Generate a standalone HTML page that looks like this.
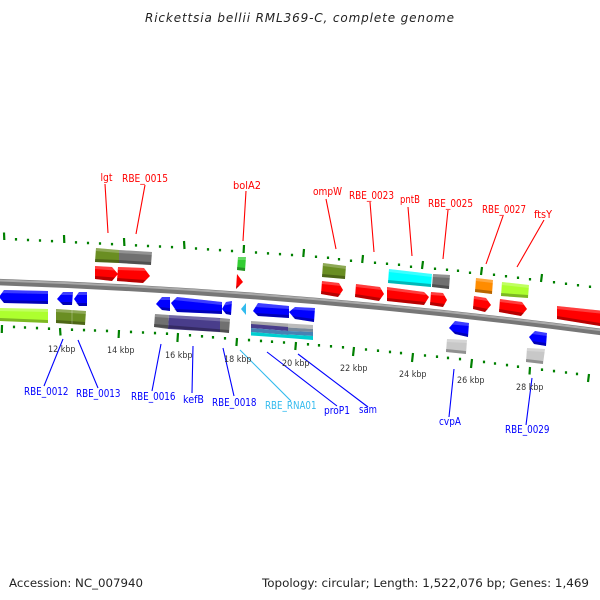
<!DOCTYPE html>
<html>
<head>
<meta charset="utf-8">
<style>
html,body{margin:0;padding:0;background:#fff;width:600px;height:600px;overflow:hidden}
svg{display:block}
text{font-family:"DejaVu Sans","Liberation Sans",sans-serif}
.h{fill:#fff;opacity:.24}
.d{fill:#000;opacity:.28}
.r text,text.r{fill:#f00}
.b text{fill:#00f}
.k text{fill:#333;font-size:8.5px}
.lab text{font-size:10.5px}
</style>
</head>
<body>
<svg width="600" height="600" viewBox="0 0 600 600" xmlns="http://www.w3.org/2000/svg">
<defs><filter id="s" x="-5%" y="-5%" width="110%" height="110%"><feGaussianBlur stdDeviation="0.3"/></filter></defs>
<rect width="600" height="600" fill="#fff"/>

<text x="145" y="22" font-size="12" font-style="italic" fill="#222" textLength="309">Rickettsia bellii RML369-C, complete genome</text>

<!-- backbone -->
<path d="M-5 282 Q300 292 605 332.5" fill="none" stroke="#777" stroke-width="6.5"/>
<path d="M-5 280.3 Q300 290.3 605 330.8" fill="none" stroke="#aaa" stroke-width="2"/>

<!-- outer ticks -->
<g fill="none" stroke="#008000" stroke-width="2.2">
<path d="M4 232.5L4.3 240M64 235L64.3 243M124 238L124.4 246M184 241L184.5 249M244 245L243.6 253M304 249L303.3 257M363 255L362.2 263M423 261L422 269M482 267L481 275M542 274L541 282"/>
<path d="M16 238V240.6M28 238.7V241.2M40 239.3V241.8M52 239.9V242.4M76 241.1V243.6M88 241.7V244.2M100 242.3V244.8M112 242.9V245.4M136 244.1V246.6M148 244.7V247.2M160 245.3V247.8M172 245.9V248.4M196 247.3V249.8M208 248.1V250.6M220 248.9V251.4M232 249.7V252.2M256 251.3V253.8M268 252.1V254.6M280 252.9V255.4M292 253.7V256.2M316 255.5V258M328 256.5V259M339 258V260.5M351 259.5V262M375 261.5V264M387 262.5V265M399 263.5V266M411 265.5V268M435 267.5V270M447 268.5V271M458 269.5V272M470 271.5V274M494 273.5V276M506 275V277.5M518 276.5V279M530 278V280.5M554 281V283.5M566 282.5V285M578 284V286.5M590 285.5V288"/>
</g>
<!-- inner ticks -->
<g fill="none" stroke="#008000" stroke-width="2.2">
<path d="M2 325L1.8 333M60 328L60.5 335.5M119 330L118.6 338M178 333L177.4 342M237 338L236.4 346M296 342L295.3 350M354 347L353 356M413 353L412 362M472 359L471 368M530 367L529.5 374.5M589 374L588 382"/>
<path d="M14 325.6V328.2M25 326.2V328.8M37 326.8V329.4M49 327.4V330M72 328.4V331M84 328.8V331.4M95 329.2V331.8M107 329.6V332.2M131 330.6V333.2M143 331.2V333.8M155 331.8V334.4M167 332.4V335M190 334V336.6M202 335V337.6M213 336V338.6M225 337V339.6M249 338.8V341.4M261 339.6V342.2M272 340.4V343M284 341.2V343.8M308 343V345.6M319 344V346.6M331 345V347.6M343 346V348.6M366 348.2V350.8M378 349.4V352M390 350.6V353.2M401 351.8V354.4M425 354.2V356.8M437 355.4V358M448 356.6V359.2M460 357.8V360.4M484 360.6V363.2M495 362.2V364.8M507 363.8V366.4M518 365.4V368M542 368.4V371M554 369.8V372.4M566 371.2V373.8M577 372.6V375.2"/>
</g>

<g filter="url(#s)">
<!-- top row features -->
<polygon points="96,248 119,250 119,263 95,262" fill="#6b8e23"/>
<polygon points="96,248 119,250 119,253 96,251" class="h"/><polygon points="95,259 119,260 119,263 95,262" class="d"/>
<polygon points="119,250 152,252 151,265 119,263" fill="#707070"/>
<polygon points="119,250 152,252 152,255 119,253" class="h"/><polygon points="119,260 151,262 151,265 119,263" class="d"/>
<polygon points="238,257 246,257 245,271 237,270" fill="#32cd32"/>
<polygon points="238,257 246,257 246,260 238,260" class="h"/><polygon points="237,267 245,268 245,271 237,270" class="d"/>
<polygon points="323,263 346,266 345,279 322,277" fill="#6b8e23"/>
<polygon points="323,263 346,266 346,269 323,266" class="h"/><polygon points="322,274 345,276 345,279 322,277" class="d"/>
<polygon points="389,269 432,274 431,287 388,283" fill="#00ffff"/>
<polygon points="389,269 432,274 432,277 389,272" class="h"/><polygon points="388,280 431,284 431,287 388,283" class="d"/>
<polygon points="433,274 450,275 449,289 432,287" fill="#707070"/>
<polygon points="433,274 450,275 450,278 433,277" class="h"/><polygon points="432,284 449,286 449,289 432,287" class="d"/>
<polygon points="476,278 493,280 492,294 475,292" fill="#ff8c00"/>
<polygon points="476,278 493,280 493,283 476,281" class="h"/><polygon points="475,289 492,291 492,294 475,292" class="d"/>
<polygon points="502,282 529,285 528,298 501,296" fill="#adff2f"/>
<polygon points="502,282 529,285 529,288 502,285" class="h"/><polygon points="501,293 528,295 528,298 501,296" class="d"/>

<!-- red arrows -->
<polygon points="95,266 112,267 118,274 112,281 95,279" fill="#f00"/>
<polygon points="95,266 112,267 115,270.5 95,269" class="h"/><polygon points="95,276 115,277.5 112,281 95,279" class="d"/>
<polygon points="118,267 144,268 150,276 143,283 117,281" fill="#f00"/>
<polygon points="118,267 144,268 146,271 118,270" class="h"/><polygon points="117,278 146,280 143,283 117,281" class="d"/>
<polygon points="237,274 243,282 236,289" fill="#f00"/>
<polygon points="236.5,286 240,285.5 236,289" class="d"/>
<polygon points="322,281 339,283 343,290 338,297 321,294" fill="#f00"/>
<polygon points="322,281 339,283 341,286 322,284" class="h"/><polygon points="321,291 341,294 338,297 321,294" class="d"/>
<polygon points="356,284 380,287 384,294 379,301 355,297" fill="#f00"/>
<polygon points="356,284 380,287 382,290 356,287" class="h"/><polygon points="355,294 381,298 379,301 355,297" class="d"/>
<polygon points="387,287 424,292 429,297 424,305 387,301" fill="#f00"/>
<polygon points="387,287 424,292 426,295 387,290" class="h"/><polygon points="387,298 426,302 424,305 387,301" class="d"/>
<polygon points="431,292 443,293 447,300 443,307 430,305" fill="#f00"/>
<polygon points="431,292 443,293 445,296 431,295" class="h"/><polygon points="430,302 445,304 443,307 430,305" class="d"/>
<polygon points="474,296 486,298 491,305 485,312 473,309" fill="#f00"/>
<polygon points="474,296 486,298 488,301 474,299" class="h"/><polygon points="473,306 488,309 485,312 473,309" class="d"/>
<polygon points="500,299 522,302 527,309 521,316 499,312" fill="#f00"/>
<polygon points="500,299 522,302 524,305 500,302" class="h"/><polygon points="499,309 524,313 521,316 499,312" class="d"/>
<polygon points="557,306 600,310.5 600,326 557,319" fill="#f00"/>
<polygon points="557,306 600,310.5 600,313.5 557,309" class="h"/><polygon points="557,316 600,323 600,326 557,319" class="d"/>

<!-- blue arrows -->
<polygon points="-1,297 4,290 48,291 48,304 4,303" fill="#00f"/>
<polygon points="1,294 4,290 48,291 48,294 1,293" class="h"/><polygon points="2,300 48,301 48,304 4,303" class="d"/>
<polygon points="57,299 63,292 73,292 72,305 63,305" fill="#00f"/>
<polygon points="60,295 63,292 73,292 73,295" class="h"/><polygon points="60,302 72,302 72,305 63,305" class="d"/>
<polygon points="74,299 79,292 87,292 87,306 79,306" fill="#00f"/>
<polygon points="77,295 79,292 87,292 87,295" class="h"/><polygon points="76,303 87,303 87,306 79,306" class="d"/>
<polygon points="156,304 162,297 170,297 170,311 162,310" fill="#00f"/>
<polygon points="159,300 162,297 170,297 170,300" class="h"/><polygon points="159,307 170,308 170,311 162,310" class="d"/>
<polygon points="171,303 177,297 222,302 222,314 177,312" fill="#00f"/>
<polygon points="174,300 177,297 222,302 222,305" class="h"/><polygon points="174,309 222,311 222,314 177,312" class="d"/>
<polygon points="222,309 226,302 232,301 231,315 226,314" fill="#00f"/>
<polygon points="224,305.5 226,302 232,301 232,304" class="h"/><polygon points="224,311 231,312 231,315 226,314" class="d"/>
<polygon points="241,309 246,303 246,315" fill="#33bbee"/>
<polygon points="253,311 258,303 289,306 289,318 258,316" fill="#00f"/>
<polygon points="255,307 258,303 289,306 289,309" class="h"/><polygon points="255,313 289,315 289,318 258,316" class="d"/>
<polygon points="289,312 295,307 315,308 314,322 295,319" fill="#00f"/>
<polygon points="292,309.5 295,307 315,308 315,311" class="h"/><polygon points="292,316 314,319 314,322 295,319" class="d"/>
<polygon points="449,328 455,321 469,323 468,337 455,334" fill="#00f"/>
<polygon points="452,324.5 455,321 469,323 469,326" class="h"/><polygon points="452,331 468,334 468,337 455,334" class="d"/>
<polygon points="529,337 535,331 547,333 546,346 534,344" fill="#00f"/>
<polygon points="532,334 535,331 547,333 547,336" class="h"/><polygon points="532,341 546,343 546,346 534,344" class="d"/>

<!-- lower row -->
<polygon points="0,308 48,309 48,323 0,321" fill="#adff2f"/>
<polygon points="0,308 48,309 48,312 0,311" class="h"/><polygon points="0,318 48,320 48,323 0,321" class="d"/>
<polygon points="56,309 86,311 85,325 56,323" fill="#6b8e23"/>
<polygon points="56,309 86,311 86,314 56,312" class="h"/><polygon points="56,320 85,322 85,325 56,323" class="d"/>
<line x1="72" y1="310" x2="72" y2="324" stroke="#fff" stroke-opacity=".4" stroke-width=".7"/>
<polygon points="155,314 169,315 168,329 154,327" fill="#707070"/>
<polygon points="169,315 220,318 220,332 168,329" fill="#483d8b"/>
<polygon points="220,318 230,319 229,333 220,332" fill="#707070"/>
<polygon points="155,314 230,319 230,322 155,317" class="h"/><polygon points="154,324 229,330 229,333 154,327" class="d"/>

<!-- stacked rows -->
<polygon points="251,321 288,323.5 288,328 251,325" fill="#aaa"/>
<polygon points="251,324 288,327 288,331 251,328" fill="#483d8b"/>
<polygon points="251,328 288,331 288,335 251,332" fill="#4682b4"/>
<polygon points="251,332 288,335 288,338 251,335.5" fill="#00ced1"/>
<polygon points="288,323.5 313,325 313,329 288,327.5" fill="#bbb"/>
<polygon points="288,327.5 313,329 313,332 288,331" fill="#778899"/>
<polygon points="288,331 313,332 313,336 288,334.5" fill="#4682b4"/>
<polygon points="288,334.5 313,336 313,340 288,338" fill="#00ced1"/>

<polygon points="447,339 467,340 466,354 446,352" fill="#c8c8c8"/>
<polygon points="447,339 467,340 467,343 447,342" class="h"/><polygon points="446,349 466,351 466,354 446,352" class="d"/>
<polygon points="527,348 545,349 543,364 526,362" fill="#c8c8c8"/>
<polygon points="527,348 545,349 545,352 527,351" class="h"/><polygon points="526,359 543,361 543,364 526,362" class="d"/>
</g>

<!-- leader lines -->
<g stroke="#f00" stroke-width="1.1" fill="none">
<path d="M105 184L108 233M145 185L136 234M246 191L243 241M326 199L336 249M370 202L374 252M408 207L412 256M448 210L443 259M503 216L486 264M544 220L517 267"/>
</g>
<g stroke="#00f" stroke-width="1.1" fill="none">
<path d="M63 339L44 386M78 340L98 388M161 344L152 391M193 346L192 393M223 348L234 396M267 352L337 406M298 354L368 407M454 369L449 417M532 378L526 425"/>
</g>
<path d="M240 350L291 401" stroke="#33bbee" stroke-width="1.1" fill="none"/>

<!-- red labels -->
<g class="r lab">
<text x="100.5" y="181" textLength="12" lengthAdjust="spacingAndGlyphs">lgt</text>
<text x="122" y="182" textLength="46" lengthAdjust="spacingAndGlyphs">RBE_0015</text>
<text x="233" y="189" textLength="28" lengthAdjust="spacingAndGlyphs">bolA2</text>
<text x="313" y="195" textLength="29" lengthAdjust="spacingAndGlyphs">ompW</text>
<text x="349" y="199" textLength="45" lengthAdjust="spacingAndGlyphs">RBE_0023</text>
<text x="400" y="203" textLength="20" lengthAdjust="spacingAndGlyphs">pntB</text>
<text x="428" y="207" textLength="45" lengthAdjust="spacingAndGlyphs">RBE_0025</text>
<text x="482" y="213" textLength="44" lengthAdjust="spacingAndGlyphs">RBE_0027</text>
<text x="534" y="218" textLength="18" lengthAdjust="spacingAndGlyphs">ftsY</text>
</g>
<!-- blue labels -->
<g class="b lab">
<text x="24" y="395" textLength="44.5" lengthAdjust="spacingAndGlyphs">RBE_0012</text>
<text x="76" y="397" textLength="44.5" lengthAdjust="spacingAndGlyphs">RBE_0013</text>
<text x="131" y="400" textLength="44.5" lengthAdjust="spacingAndGlyphs">RBE_0016</text>
<text x="183" y="403" textLength="21" lengthAdjust="spacingAndGlyphs">kefB</text>
<text x="212" y="406" textLength="44.5" lengthAdjust="spacingAndGlyphs">RBE_0018</text>
<text x="324" y="414" textLength="26" lengthAdjust="spacingAndGlyphs">proP1</text>
<text x="359" y="413" textLength="18" lengthAdjust="spacingAndGlyphs">sam</text>
<text x="439" y="425" textLength="22" lengthAdjust="spacingAndGlyphs">cvpA</text>
<text x="505" y="433" textLength="44.5" lengthAdjust="spacingAndGlyphs">RBE_0029</text>
</g>
<text x="265" y="409" font-size="10.5" fill="#33bbee" textLength="51.5" lengthAdjust="spacingAndGlyphs">RBE_RNA01</text>

<!-- kbp -->
<g class="k">
<text x="48" y="352" textLength="27.5" lengthAdjust="spacingAndGlyphs">12 kbp</text>
<text x="107" y="353" textLength="27.5" lengthAdjust="spacingAndGlyphs">14 kbp</text>
<text x="165" y="358" textLength="27.5" lengthAdjust="spacingAndGlyphs">16 kbp</text>
<text x="224" y="362" textLength="27.5" lengthAdjust="spacingAndGlyphs">18 kbp</text>
<text x="282" y="366" textLength="27.5" lengthAdjust="spacingAndGlyphs">20 kbp</text>
<text x="340" y="371" textLength="27.5" lengthAdjust="spacingAndGlyphs">22 kbp</text>
<text x="399" y="377" textLength="27.5" lengthAdjust="spacingAndGlyphs">24 kbp</text>
<text x="457" y="383" textLength="27.5" lengthAdjust="spacingAndGlyphs">26 kbp</text>
<text x="516" y="390" textLength="27.5" lengthAdjust="spacingAndGlyphs">28 kbp</text>
</g>

<!-- footer -->
<text x="9" y="587" font-size="11.5" fill="#222" textLength="134" lengthAdjust="spacingAndGlyphs">Accession: NC_007940</text>
<text x="262" y="587" font-size="11.5" fill="#222" textLength="327" lengthAdjust="spacingAndGlyphs">Topology: circular; Length: 1,522,076 bp; Genes: 1,469</text>
</svg>
</body>
</html>
